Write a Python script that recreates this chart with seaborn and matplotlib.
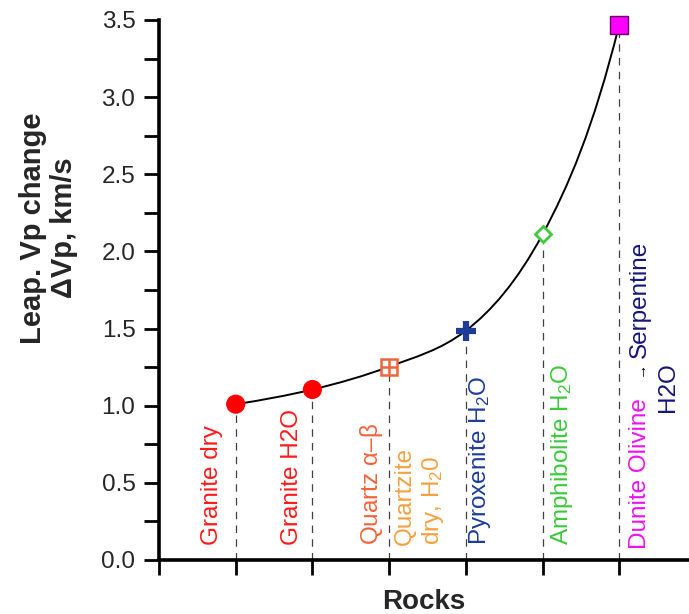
import numpy as np
import matplotlib
matplotlib.use("Agg")
import matplotlib.pyplot as plt
from matplotlib.path import Path
from matplotlib.patches import PathPatch
import seaborn as sns

#%% Dados

rocks = ["Granite dry", "Granite H2O", "Quartz", "Pyroxenite H2O",
         "Amphibolite H2O", "Dunite Olivine -> Serpentine"]
rock_x = [1, 2, 3, 4, 5, 6]
dvp = [1.01, 1.105, 1.253, 1.486, 2.11, 3.47]

marker_colors = ["#ff0000", "#ff0000", "#f0643c", "#1c3c96", "#40c83c", "#ff00ff"]

# rotated labels: text, x, y (bottom), colour
label_text = ["Granite dry", "Granite H2O", r"Quartz $\alpha$–$\beta$",
              "Quartzite\ndry, H$_2$0", "Pyroxenite H$_2$O", "Amphibolite H$_2$O",
              "Dunite Olivine", "Serpentine", "H2O"]
label_x = [0.69, 1.73, 2.77, 3.40, 4.19, 5.25, 6.27, 6.27, 6.64]
label_y = [0.10, 0.10, 0.10, 0.10, 0.10, 0.10, 0.07, 1.31, 0.96]
label_color = ["#ff1a1a", "#ff1a1a", "#f0643c", "#f5a040", "#1c3c96",
               "#3cc83c", "#ee11ee", "#15157a", "#15157a"]

#%% Estilo

sns.set_style("ticks")
plt.rcParams["font.family"] = ["Liberation Sans", "DejaVu Sans"]
plt.rcParams["mathtext.fontset"] = "custom"
plt.rcParams["mathtext.rm"] = "Liberation Sans"
plt.rcParams["mathtext.it"] = "Liberation Sans:italic"
plt.rcParams["mathtext.default"] = "regular"

fig = plt.figure(figsize=(6.89, 6.14), dpi=100)
ax = fig.add_axes([159 / 689, 1 - 560 / 614, 530 / 689, 540 / 614])

#%% Curva suave (Hermite convexa desenhada como Bezier)

xs = np.array(rock_x, dtype=float)
ys = np.array(dvp, dtype=float)
sec = np.diff(ys) / np.diff(xs)
m = np.empty_like(ys)
m[1:-1] = np.sqrt(sec[:-1] * sec[1:])
m[0] = sec[0] ** 2 / m[1]
m[-1] = sec[-1] ** 2 / m[-2]
verts = [(xs[0], ys[0])]
codes = [Path.MOVETO]
for i in range(len(xs) - 1):
    h = xs[i + 1] - xs[i]
    verts += [(xs[i] + h / 3, ys[i] + h * m[i] / 3),
              (xs[i + 1] - h / 3, ys[i + 1] - h * m[i + 1] / 3),
              (xs[i + 1], ys[i + 1])]
    codes += [Path.CURVE4] * 3
ax.add_patch(PathPatch(Path(verts, codes), facecolor="none",
                       edgecolor="black", lw=1.4, zorder=3))

#%% Linhas tracejadas

ax.vlines(rock_x, 0, dvp, colors="#404040", linestyles=(0, (6, 5)), lw=0.9, zorder=2)

#%% Marcadores

sns.scatterplot(x=rock_x[:2], y=dvp[:2], color=marker_colors[0], s=190,
                edgecolor="none", ax=ax, zorder=5, clip_on=False)
ax.plot(rock_x[2], dvp[2], marker="s", ms=11, mfc="white", mec=marker_colors[2],
        mew=1.8, zorder=5, clip_on=False)
ax.plot(rock_x[2], dvp[2], marker="+", ms=11, mec=marker_colors[2], mew=1.8,
        zorder=6, clip_on=False)
ax.plot(rock_x[3], dvp[3], marker="+", ms=15, mec=marker_colors[3], mew=4.5,
        zorder=5, clip_on=False)
ax.plot(rock_x[4], dvp[4], marker="D", ms=8.5, mfc="white", mec=marker_colors[4],
        mew=2, zorder=5, clip_on=False)
ax.plot(rock_x[5], dvp[5], marker="s", ms=13, mfc=marker_colors[5], mec="#660066",
        mew=1, zorder=5, clip_on=False)

#%% Textos

for t, x, y, c in zip(label_text, label_x, label_y, label_color):
    ax.text(x, y, t, rotation=90, ha="center", va="bottom", color=c,
            fontsize=17.5, multialignment="left", zorder=4)
ax.text(6.27, 1.24, "→", rotation=90, ha="center", va="center",
        color="black", fontsize=11, zorder=4)

#%% Eixos

ax.set_xlim(0, 6.91)
ax.set_ylim(0, 3.5)
ax.set_xticks(range(0, 7))
ax.set_xticklabels([])
ax.set_yticks(np.arange(0, 3.51, 0.5))
ax.set_yticks(np.arange(0.25, 3.5, 0.5), minor=True)
ax.set_yticklabels([f"{v:.1f}" for v in np.arange(0, 3.51, 0.5)])
ax.tick_params(axis="both", which="both", direction="out", length=11,
               width=2, color="black", labelsize=17.5, pad=6)
sns.despine(ax=ax)
for s in ["left", "bottom"]:
    ax.spines[s].set_linewidth(2.6)
    ax.spines[s].set_color("black")

ax.set_xlabel("Rocks", fontsize=20, fontweight="bold", labelpad=4)
ax.set_ylabel("Leap. Vp change\nΔVp, km/s", fontsize=21, fontweight="bold",
              linespacing=1.15)
ax.yaxis.set_label_coords(-0.153, 0.615)

fig.savefig("out.png", dpi=100)
